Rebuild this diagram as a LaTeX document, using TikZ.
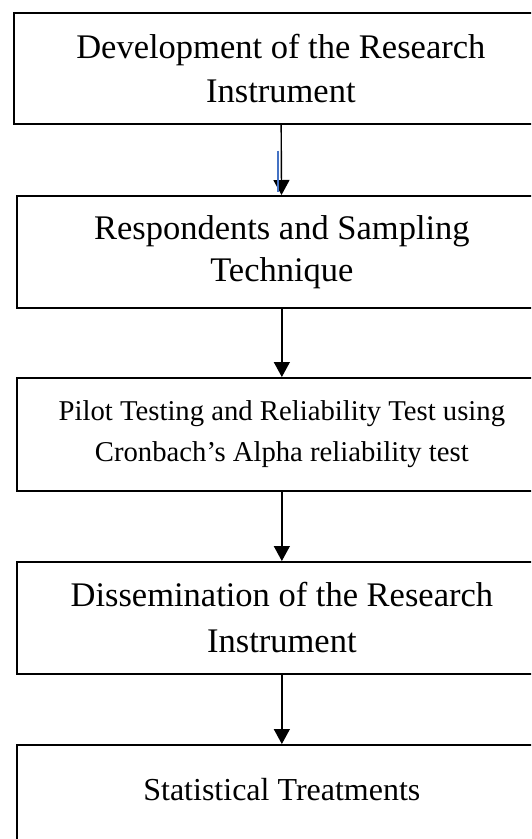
\documentclass[tikz,border=0pt]{standalone}
\usepackage{fontspec}
\setmainfont{Liberation Serif}
\usetikzlibrary{arrows.meta,calc}
\definecolor{strayblue}{RGB}{68,114,196}
\tikzset{
  stage/.style={draw, line width=1.7pt, anchor=north west, minimum width=530pt,
    minimum height=112pt, inner sep=0pt, align=center},
  bigtext/.style={font=\fontsize{34.5}{44.6}\selectfont},
  flow/.style={-{Triangle[width=16pt,length=15pt]}, line width=1.4pt},
}

\begin{document}
\begin{tikzpicture}[x=1pt, y=-1pt]
			%%%%% FRAME %%%%%
			\useasboundingbox (0, 0) rectangle (531, 839);
			\clip (0, 0) rectangle (531, 839);
			
			%%%%% STAGES %%%%%
			\node[stage, bigtext, minimum width=534pt, minimum height=111pt] (dev) at (13, 12) {Development of the Research\\Instrument};
			\node[stage, font=\fontsize{34.5}{42}\selectfont] (resp) at (16, 195) {Respondents and Sampling\\Technique};
			\node[stage, font=\fontsize{28.7}{41.3}\selectfont, minimum height=113pt] (pilot) at (16, 377) {Pilot Testing and Reliability Test using\\Cronbach’s Alpha reliability test};
			\node[stage, font=\fontsize{34.5}{45.7}\selectfont] (diss) at (16, 561) {Dissemination of the Research\\Instrument};
			\node[stage, font=\fontsize{32}{38}\selectfont, text depth=22pt] (stat) at (16, 744) {Statistical Treatments};
			
			%%%%% ARROWS %%%%%
			\draw[flow] (dev) -- (resp);
			\draw[line width=2pt, color=strayblue] ($(dev.south)+(-3, 26)$) -- ++(0, 41);
			\draw[flow] (resp) -- (pilot);
			\draw[flow] (pilot) -- (diss);
			\draw[flow] (diss) -- (stat);
			
		\end{tikzpicture}
\end{document}
